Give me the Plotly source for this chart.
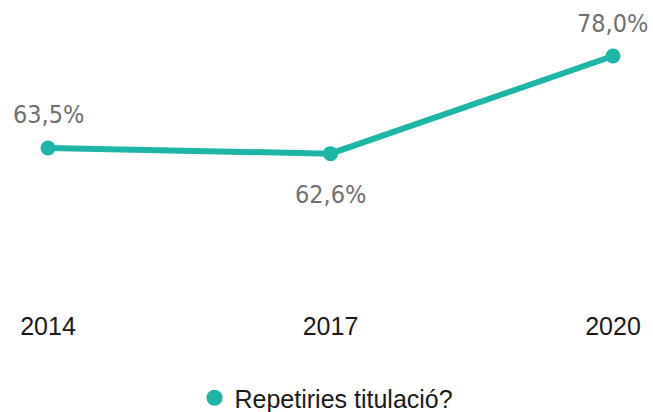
import plotly.graph_objects as go

years = [2014, 2017, 2020]
values = [63.5, 62.6, 78.0]
labels = ["63,5%", "62,6%", "78,0%"]
label_shift = [33, -41, 33]
series_name = "Repetiries titulació?"
teal = "#1db5a5"

fig = go.Figure()
fig.add_trace(go.Scatter(
    x=years, y=values, mode="lines+markers",
    line=dict(color=teal, width=6),
    marker=dict(color=teal, size=15),
    showlegend=False, hoverinfo="skip",
))
fig.add_trace(go.Scatter(
    x=[None], y=[None], mode="markers", name=series_name,
    marker=dict(color=teal, size=16), showlegend=True,
))
for x, y, t, s in zip(years, values, labels, label_shift):
    fig.add_annotation(x=x, y=y, text=t, showarrow=False, yshift=s,
                       font=dict(family="DejaVu Sans Condensed", size=25, color="#707070"))

fig.update_layout(
    width=653, height=412,
    margin=dict(l=0, r=0, t=20, b=112, autoexpand=False),
    plot_bgcolor="white", paper_bgcolor="white",
    xaxis=dict(range=[2013.49, 2020.425], tickvals=years, ticktext=[str(y) for y in years],
               showgrid=False, zeroline=False, showline=False, automargin=False,
               ticks="outside", ticklen=4, tickcolor="rgba(0,0,0,0)",
               tickfont=dict(family="Liberation Sans, Arial", size=25, color="#1a1a1a")),
    yaxis=dict(range=[39.52, 83.68], visible=False),
    legend=dict(orientation="h", x=0.5, xanchor="center", y=-0.35, yanchor="middle",
                font=dict(family="Liberation Sans, Arial", size=25, color="#1a1a1a"),
                itemwidth=30),
)
fig.write_html("out.html", config={"displayModeBar": False},
               post_script="document.body.style.margin='0';document.body.style.overflow='hidden';")
